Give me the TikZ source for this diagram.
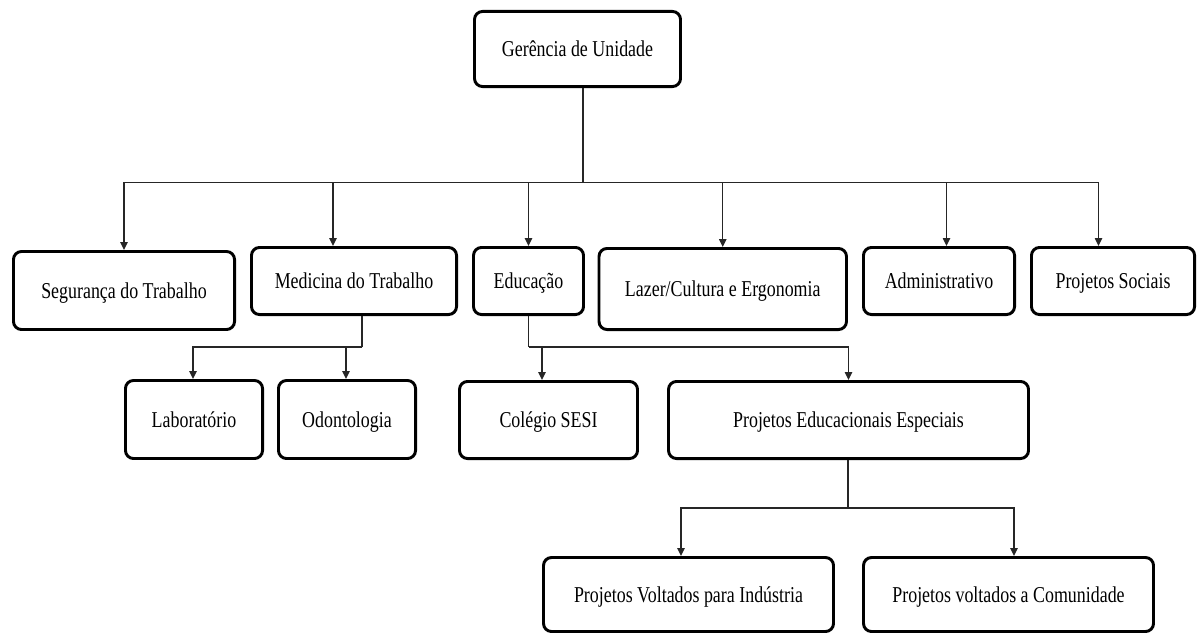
\documentclass[tikz,border=0pt]{standalone}
\usepackage{fontspec}
\setmainfont[FakeStretch=0.79]{Liberation Serif}
\usetikzlibrary{arrows.meta,calc}

\begin{document}
\begin{tikzpicture}[x=0.75pt,y=-0.75pt,
  orgbox/.style n args={2}{draw=black, line width=2.2pt, rounded corners=6pt,
    fill=white, inner sep=0pt, minimum width=#1, minimum height=#2,
    text height=11.3pt, text depth=0pt,
    font=\fontsize{17}{20}\selectfont, text=black},
  conn/.style={draw=black!85, line width=1.1pt},
  arr/.style={conn, -{Triangle[length=6pt,width=5.5pt]}}]

\fill[white] (0,0) rectangle (1198,635);
\useasboundingbox (0,0) rectangle (1198,635);

% top level
\node[orgbox={154.5pt}{56.3pt}] (top) at (577.5,49) {Gerência de Unidade};

% second level
\node[orgbox={165.8pt}{58.5pt}] (seg) at (124,290.5) {Segurança do Trabalho};
\node[orgbox={153.8pt}{50.3pt}] (med) at (354,281) {Medicina do Trabalho};
\node[orgbox={82.5pt}{50.3pt}]  (edu) at (528.5,281) {Educação};
\node[orgbox={185.6pt}{60.8pt}] (laz) at (722.75,289) {Lazer/Cultura e Ergonomia};
\node[orgbox={113.3pt}{50.3pt}] (adm) at (939,281) {Administrativo};
\node[orgbox={122.3pt}{50.3pt}] (soc) at (1113,281) {Projetos Sociais};

% third level
\node[orgbox={102.8pt}{58.5pt}] (lab) at (194,419.5) {Laboratório};
\node[orgbox={102.8pt}{58.5pt}] (odo) at (347,419.5) {Odontologia};
\node[orgbox={133.5pt}{57.8pt}] (col) at (548.5,420) {Colégio SESI};
\node[orgbox={270pt}{57.8pt}]   (pee) at (848.5,420) {Projetos Educacionais Especiais};

% fourth level
\node[orgbox={217.5pt}{55.5pt}] (pvi) at (688.5,594.5) {Projetos Voltados para Indústria};
\node[orgbox={217.5pt}{55.5pt}] (pvc) at (1008.5,594.5) {Projetos voltados a Comunidade};

% bus points
\coordinate (busA) at (583,182.5);
\coordinate (busM) at (362,347);
\coordinate (busE) at (528.5,347);
\coordinate (busP) at (848,508);

% top level to second level
\draw[conn] (top.south -| busA) -- (busA);
\draw[arr] (busA) -| (seg.north);
\draw[arr] (busA) -| ($(med.north)+(-21,0)$);
\draw[arr] (busA) -| (edu.north);
\draw[arr] (busA) -| (laz.north);
\draw[arr] (busA) -| ($(adm.north)+(7.5,0)$);
\draw[arr] (busA) -| ($(soc.north)+(-14.5,0)$);

% Medicina do Trabalho
\draw[conn] (med.south -| busM) -- (busM);
\draw[arr] (busM) -| ($(lab.north)+(-1,0)$);
\draw[arr] (busM) -| ($(odo.north)+(-1,0)$);

% Educação
\draw[conn] (edu.south) -- (busE);
\draw[arr] (busE) -| ($(col.north)+(-6.5,0)$);
\draw[arr] (busE) -| (pee.north);

% Projetos Educacionais Especiais
\draw[conn] (pee.south -| busP) -- (busP);
\draw[arr] (busP) -| ($(pvi.north)+(-7.5,0)$);
\draw[arr] (busP) -| ($(pvc.north)+(5.5,0)$);

\end{tikzpicture}
\end{document}
